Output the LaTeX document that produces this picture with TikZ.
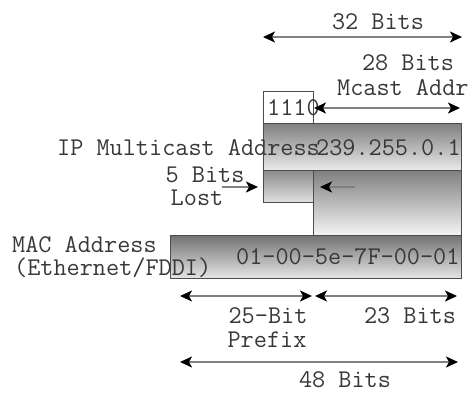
\documentclass[tikz,border=0pt]{standalone}
\usetikzlibrary{arrows.meta}
\tikzset{
  lbl/.style={font=\ttfamily\fontsize{25.5}{27}\selectfont, inner sep=0pt, text=black!78},
  field/.style={draw=black!70, line width=0.9pt, inner sep=0pt, anchor=north west},
  dimtip/.tip={Stealth[length=12pt,width=11pt,inset=3pt,color=black,fill=black]},
  span/.style={dimtip-dimtip, draw=black!50, line width=1.6pt},
  pointer/.style={-dimtip, draw=black!50, line width=1.6pt}
}
\begin{document}
\begin{tikzpicture}[x=1pt,y=-1pt]
\useasboundingbox (0,0) rectangle (474,392);

% address fields
\node[field, fill=white, minimum width=50pt, minimum height=32pt] (prefix) at (263,91) {};
\node[field, top color=black!50, middle color=black!12, bottom color=black!8, minimum width=198pt, minimum height=47pt] (ip) at (263,123) {};
\node[field, top color=black!45, bottom color=black!12, minimum width=50pt, minimum height=32pt] (lost) at (263,170) {};
\node[field, top color=black!50, bottom color=black!4, minimum width=148pt, minimum height=65pt] (kept) at (313,170) {};
\node[field, top color=black!55, middle color=black!20, bottom color=black!10, minimum width=291pt, minimum height=43pt] (mac) at (170,235) {};

% texts
\node[lbl, anchor=west] (t1110) at (267,108) {1110};
\node[lbl] (t32) at (378,22) {32 Bits};
\node[lbl] (t28) at (408,63) {28 Bits};
\node[lbl, anchor=west] (tmc) at (337,88) {Mcast Addr};
\node[lbl, anchor=west] (tipname) at (57,148) {IP Multicast Address};
\node[lbl, anchor=west] (tipv) at (316,148) {239.255.0.1};
\node[lbl] (t5) at (205,175) {5 Bits};
\node[lbl] (tlost) at (197,198) {Lost};
\node[lbl, anchor=west] (tmac) at (12,245) {MAC Address};
\node[lbl, anchor=west] (teth) at (14,268) {(Ethernet/FDDI)};
\node[lbl, anchor=west] (tmacv) at (236,257) {01-00-5e-7F-00-01};
\node[lbl] (t25) at (268,316) {25-Bit};
\node[lbl] (tpre) at (267,340) {Prefix};
\node[lbl] (t23) at (410,316) {23 Bits};
\node[lbl] (t48) at (345,380) {48 Bits};

% dimension arrow end points
\coordinate (a32l) at (263,37);  \coordinate (a32r) at (462,37);
\coordinate (a28l) at (314,108); \coordinate (a28r) at (460,108);
\coordinate (inl)  at (222,187); \coordinate (inr)  at (258,187);
\coordinate (outr) at (355,187); \coordinate (outl) at (320,187);
\coordinate (a25l) at (180,296); \coordinate (a25r) at (312,296);
\coordinate (a23l) at (315,296); \coordinate (a23r) at (457,296);
\coordinate (a48l) at (180,362); \coordinate (a48r) at (458,362);

\draw[span] (a32l) -- (a32r);
\draw[span] (a28l) -- (a28r);
\draw[pointer] (inl) -- (inr);
\draw[pointer] (outr) -- (outl);
\draw[span] (a25l) -- (a25r);
\draw[span] (a23l) -- (a23r);
\draw[span] (a48l) -- (a48r);
\end{tikzpicture}
\end{document}
